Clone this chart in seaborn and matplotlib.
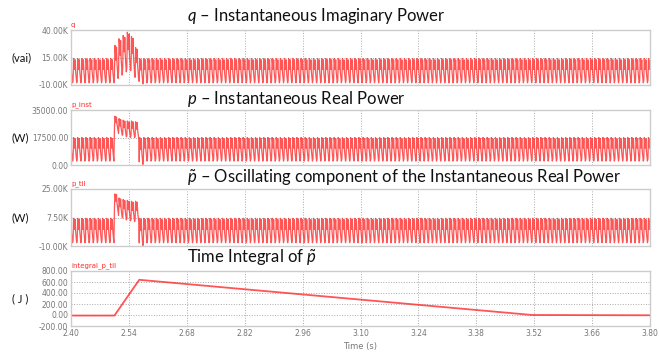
import numpy as np
import pandas as pd
import matplotlib
matplotlib.use('Agg')
import matplotlib.pyplot as plt
import seaborn as sns

sns.set_style('white')
plt.rcParams['font.family'] = ['Lato', 'DejaVu Sans']
plt.rcParams['mathtext.fontset'] = 'custom'
plt.rcParams['mathtext.it'] = 'Lato:italic'
plt.rcParams['mathtext.rm'] = 'Lato'

# ---- data ----
t_start, t_end = 2.40, 3.80
period = 0.01            # one ripple cycle (s)
cycle_shape = [0.10, 1.00, 0.80, 0.55, 0.95, 0.45, 0.20, 0.00]   # one cycle, normalised
dist_start = 2.505       # start of the disturbance (s)

# q  (var)
q_lo, q_hi = -8000, 14000
q_dist_hi = [26000, 32000, 35000, 38000, 34000, 24000]
q_dist_lo = [-4000, -1000, 2000, 3000, 0, -6000]
q_dip = -9000

# p_inst (W)
p_lo, p_hi = 2500, 17500
p_dist_hi = [31000, 29500, 28500, 28000, 28000, 27500]
p_dist_lo = [22000, 19000, 18000, 17500, 17500, 17000]
p_dip = 300

# p_til (W)
pt_lo, pt_hi = -8000, 7000
pt_dist_hi = [22000, 19500, 18500, 18000, 17500, 17500]
pt_dist_lo = [12000, 7500, 6000, 5500, 5000, 5000]
pt_dip = -9800

# integral_p_til (J), vertices of the trace
int_t = [2.40, 2.505, 2.565, 3.515, 3.80]
int_v = [-10, -10, 640, 0, -5]

x_ticks = [2.40, 2.54, 2.68, 2.82, 2.96, 3.10, 3.24, 3.38, 3.52, 3.66, 3.80]
panels = [
    dict(name='q', unit='(vai)', ticks=[-10000, 15000, 40000],
         labels=['-10.00K', '15.00K', '40.00K'],
         title='$q$ – Instantaneous Imaginary Power'),
    dict(name='p_inst', unit='(W)', ticks=[0, 17500, 35000],
         labels=['0.00', '17500.00', '35000.00'],
         title='$p$ – Instantaneous Real Power'),
    dict(name='p_til', unit='(W)', ticks=[-10000, 7500, 25000],
         labels=['-10.00K', '7.50K', '25.00K'],
         title=r'$\tilde{p}$ – Oscillating component of the Instantaneous Real Power'),
    dict(name='integral_p_til', unit='( J )', ticks=[-200, 0, 200, 400, 600, 800],
         labels=['-200.00', '0.00', '200.00', '400.00', '600.00', '800.00'],
         title=r'Time Integral of $\tilde{p}$'),
]


def build_trace(lo, hi, dist_lo, dist_hi, dip):
    n = len(cycle_shape)
    n_cycles = int(round((t_end - t_start) / period))
    ts, vs = [], []
    phase = (dist_start - t_start) % period
    for k in range(-1, n_cycles + 1):
        t0 = t_start + phase + k * period
        j = int(round((t0 - dist_start) / period))
        if 0 <= j < len(dist_hi):
            a, b = dist_lo[j], dist_hi[j]
        elif j == len(dist_hi):
            a, b = dip, hi
        else:
            a, b = lo, hi
        for i, s in enumerate(cycle_shape):
            tt = t0 + i * period / n
            if t_start <= tt <= t_end:
                ts.append(tt)
                vs.append(a + s * (b - a))
    return pd.DataFrame({'t': ts, 'v': vs})


traces = [
    build_trace(q_lo, q_hi, q_dist_lo, q_dist_hi, q_dip),
    build_trace(p_lo, p_hi, p_dist_lo, p_dist_hi, p_dip),
    build_trace(pt_lo, pt_hi, pt_dist_lo, pt_dist_hi, pt_dip),
    pd.DataFrame({'t': int_t, 'v': int_v}),
]

W, H = 659, 356
fig = plt.figure(figsize=(W / 100, H / 100), dpi=100)
ax_left, ax_right = 71, 650
tops = [30, 110, 189, 271]
bots = [85, 165, 246, 326]
title_y = [16, 99, 178, 258]
red = '#ff2a2a'
grey = '#777777'

for i, pan in enumerate(panels):
    ax = fig.add_axes([ax_left / W, 1 - bots[i] / H,
                       (ax_right - ax_left) / W, (bots[i] - tops[i]) / H])
    df = traces[i]
    sns.lineplot(data=df, x='t', y='v', ax=ax, color=red, lw=0.9 if i < 3 else 1.3,
                 estimator=None, alpha=0.8)
    ax.set_xlim(t_start, t_end)
    ax.set_ylim(pan['ticks'][0], pan['ticks'][-1])
    ax.set_xticks(x_ticks)
    ax.set_yticks(pan['ticks'])
    ax.set_yticklabels(pan['labels'], fontsize=5.5, color=grey, family='DejaVu Sans')
    if i == 3:
        ax.set_xticklabels(['%.2f' % v for v in x_ticks], fontsize=5.5, color=grey,
                           family='DejaVu Sans')
        ax.set_xlabel('Time (s)', fontsize=6, color=grey, family='DejaVu Sans', labelpad=3)
    else:
        ax.set_xticklabels([])
        ax.set_xlabel('')
    ax.set_ylabel('')
    ax.tick_params(length=0, pad=2)
    ax.grid(True, ls=':', color='#aaaaaa', lw=0.7)
    for sp in ax.spines.values():
        sp.set_color('#cccccc')
        sp.set_linewidth(1.0)
    ax.text(0.0, 1.03, pan['name'], transform=ax.transAxes, color=red,
            fontsize=5, family='DejaVu Sans', va='bottom', ha='left')
    fig.text(12 / W, 1 - ((tops[i] + bots[i]) / 2) / H, pan['unit'],
             fontsize=8, ha='left', va='center', color='#111111')
    fig.text(187 / W, 1 - title_y[i] / H, pan['title'], fontsize=12,
             ha='left', va='center', color='#111111')

fig.savefig('out.png', dpi=100)
